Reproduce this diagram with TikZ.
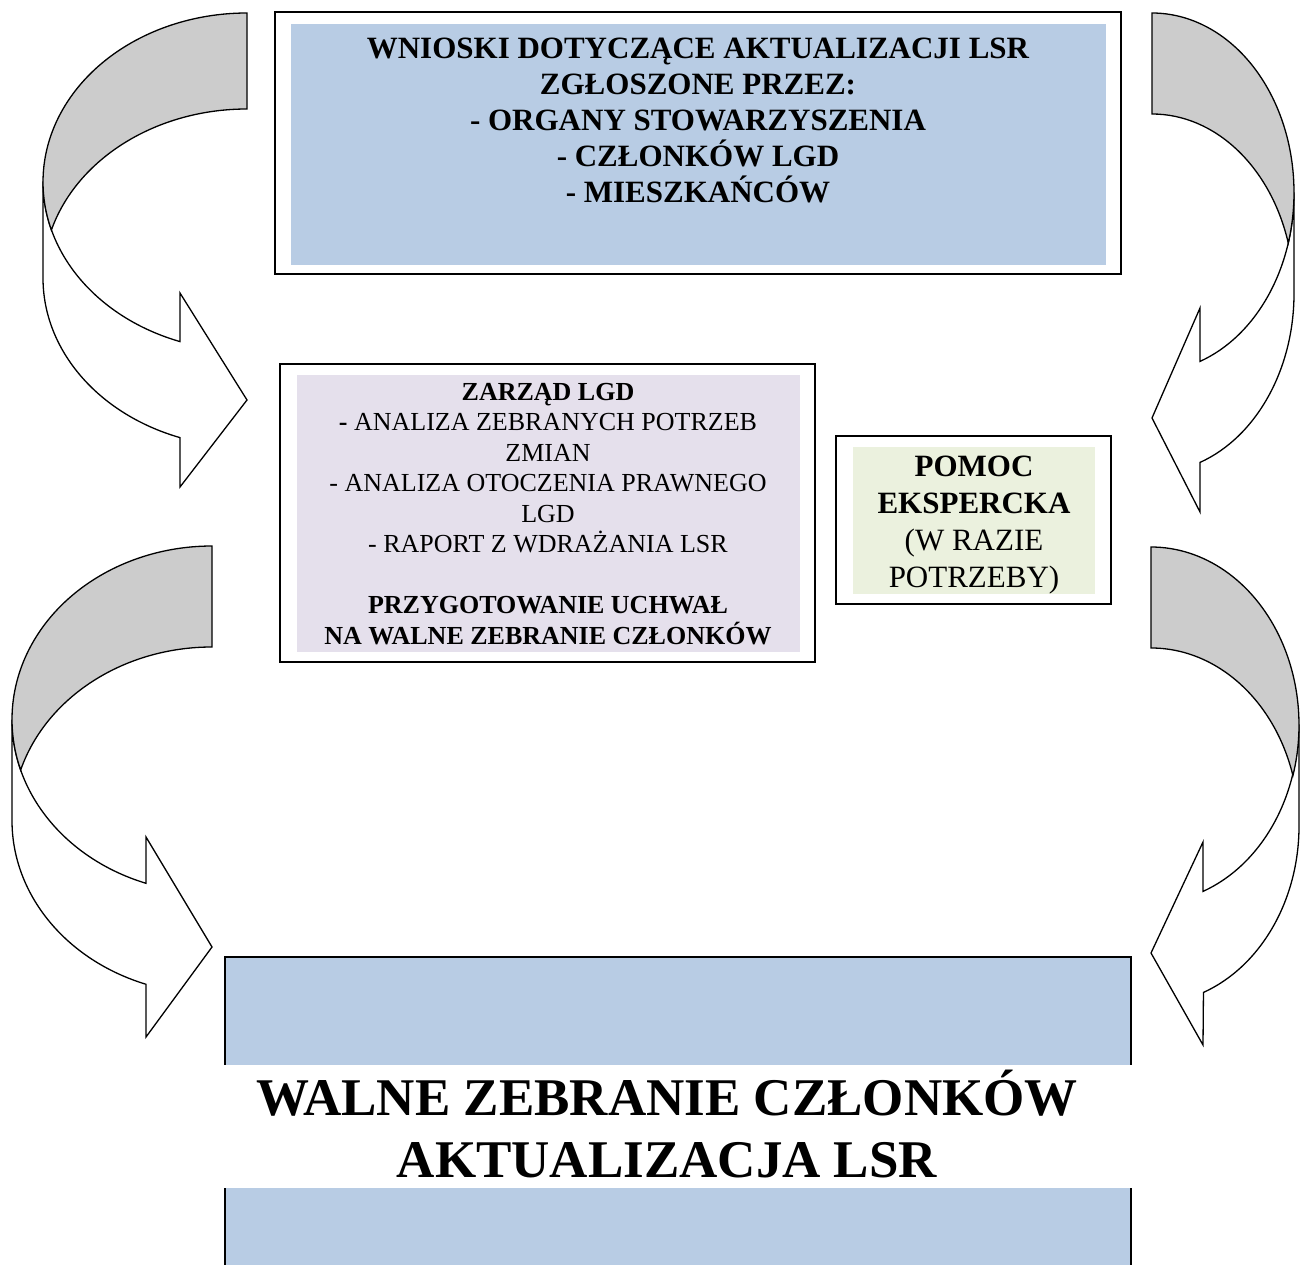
\documentclass[tikz,border=0pt]{standalone}
\usepackage{fontspec}
\setmainfont{Liberation Serif}

\definecolor{wnioskiblue}{HTML}{B8CCE4}
\definecolor{zarzadlila}{HTML}{E5E0EC}
\definecolor{pomocgreen}{HTML}{EBF1DE}
\definecolor{arrowgray}{HTML}{CCCCCC}

\tikzset{
  frame/.style={draw=black,line width=1.8pt,fill=white},
  fillbox/.style={draw=none,inner sep=0pt},
  arrowfront/.style={draw=black,line width=1.3pt,fill=white,line join=miter},
  arrowback/.style={draw=black,line width=1.3pt,fill=arrowgray,line join=miter}
}

\begin{document}
\begin{tikzpicture}[x=1pt,y=-1pt]
  \useasboundingbox (0,0) rectangle (1301,1264);

  % curved arrows, white front first, gray back on top
  \draw[arrowfront] (43,182) -- (43,278) arc[start angle=180,end angle=109.2,x radius=204,y radius=169]
    -- (180,487) -- (247,400) -- (180,293) -- (180,341.6)
    arc[start angle=109.2,end angle=180,x radius=204,y radius=169] -- cycle;
  \draw[arrowback] (247,13) arc[start angle=270,end angle=163.5,x radius=204,y radius=169]
    arc[start angle=196.5,end angle=270,x radius=204,y radius=169] -- cycle;

  \draw[arrowfront] (1294,192.5) -- (1294,293.5) arc[start angle=0,end angle=70.24,x radius=142,y radius=179.5]
    -- (1200,512) -- (1152,418) -- (1200,308) -- (1200,361.4)
    arc[start angle=70.24,end angle=0,x radius=142,y radius=179.5] -- cycle;
  \draw[arrowback] (1152,13) arc[start angle=-90,end angle=16.34,x radius=142,y radius=179.5]
    arc[start angle=-16.34,end angle=-90,x radius=142,y radius=179.5] -- cycle;

  \draw[arrowfront] (12,719.5) -- (12,820.5) arc[start angle=180,end angle=109.27,x radius=200,y radius=173.5]
    -- (146,1037) -- (212,947) -- (146,837) -- (146,883.3)
    arc[start angle=109.27,end angle=180,x radius=200,y radius=173.5] -- cycle;
  \draw[arrowback] (212,546) arc[start angle=270,end angle=163.08,x radius=200,y radius=173.5]
    arc[start angle=196.92,end angle=270,x radius=200,y radius=173.5] -- cycle;

  \draw[arrowfront] (1299,725) -- (1299,826) arc[start angle=0,end angle=69.24,x radius=148,y radius=178]
    -- (1203,1045) -- (1151,953) -- (1203,842) -- (1203,891.4)
    arc[start angle=69.24,end angle=0,x radius=148,y radius=178] -- cycle;
  \draw[arrowback] (1151,547) arc[start angle=-90,end angle=16.48,x radius=148,y radius=178]
    arc[start angle=-16.48,end angle=-90,x radius=148,y radius=178] -- cycle;

  % boxes
  \node[frame,minimum width=846,minimum height=262] (wnioskiframe) at (698,143) {};
  \node[fillbox,fill=wnioskiblue,minimum width=815,minimum height=241] (wnioski) at (698.5,144.5) {};
  \node[inner sep=0pt,align=center,font=\fontsize{31}{36}\selectfont\bfseries] (wnioskitext) at (698,120)
    {WNIOSKI DOTYCZĄCE AKTUALIZACJI LSR\\ZGŁOSZONE PRZEZ:\\- ORGANY STOWARZYSZENIA\\- CZŁONKÓW LGD\\- MIESZKAŃCÓW};

  \node[frame,minimum width=535,minimum height=298] (zarzadframe) at (547.5,513) {};
  \node[fillbox,fill=zarzadlila,minimum width=503,minimum height=277] (zarzad) at (548.5,513.5) {};
  \node[inner sep=0pt,align=center,font=\fontsize{26}{30.5}\selectfont] (zarzadtext) at (548,514)
    {\textbf{ZARZĄD LGD}\\\textbf{-} ANALIZA ZEBRANYCH POTRZEB\\ZMIAN\\- ANALIZA OTOCZENIA PRAWNEGO\\LGD\\- RAPORT Z WDRAŻANIA LSR\\[30.5pt]
     \textbf{PRZYGOTOWANIE UCHWAŁ}\\\textbf{NA WALNE ZEBRANIE CZŁONKÓW}};

  \node[frame,minimum width=275,minimum height=168] (pomocframe) at (973.5,520) {};
  \node[fillbox,fill=pomocgreen,minimum width=242,minimum height=147] (pomoc) at (974,520.5) {};
  \node[inner sep=0pt,align=center,font=\fontsize{31}{37}\selectfont] (pomoctext) at (974,525.5)
    {\textbf{POMOC}\\\textbf{EKSPERCKA}\\(W RAZIE\\POTRZEBY)};

  \node[fillbox,fill=wnioskiblue,minimum width=906,minimum height=320,anchor=north west] (walne) at (225,957) {};
  \draw[line width=2pt] (walne.south west) |- (walne.north east) -- (walne.south east);
  \node[fillbox,fill=white,minimum width=912,minimum height=123] (walneband) at (678,1126.5) {};
  \node[inner sep=0pt,align=center,font=\fontsize{53}{62}\selectfont\bfseries] (walnetext) at (667,1124)
    {WALNE ZEBRANIE CZŁONKÓW\\AKTUALIZACJA LSR};
\end{tikzpicture}
\end{document}
